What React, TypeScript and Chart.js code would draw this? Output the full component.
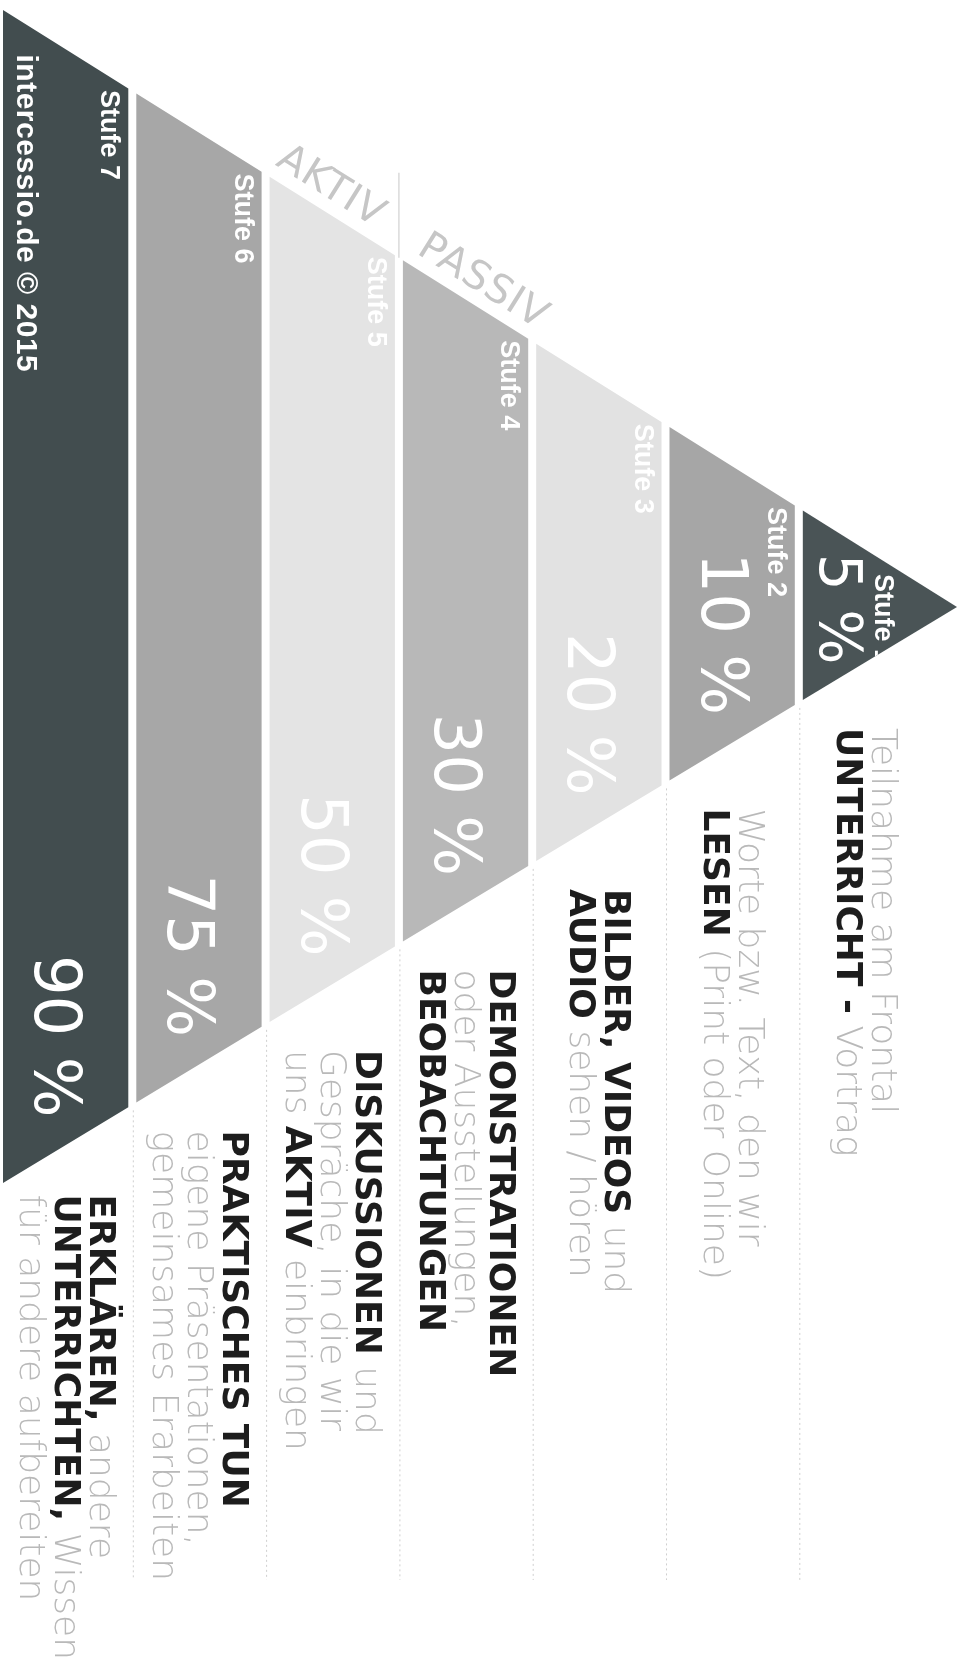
import React, { useEffect, useRef } from "react";
import { Chart, registerables } from "chart.js";

Chart.register(...registerables);

// ---------------- data ----------------
const stufen = ["Stufe 1", "Stufe 2", "Stufe 3", "Stufe 4", "Stufe 5", "Stufe 6", "Stufe 7"];
const behaltensquote = [5, 10, 20, 30, 50, 75, 90];
const beschreibungen: string[][] = [
  ["Teilnahme am Frontal", "**UNTERRICHT -** Vortrag"],
  ["Worte bzw. Text, den wir", "**LESEN** (Print oder Online)"],
  ["**BILDER, VIDEOS** und", "**AUDIO** sehen / hören"],
  ["**DEMONSTRATIONEN**", "oder Ausstellungen,", "**BEOBACHTUNGEN**"],
  ["**DISKUSSIONEN** und", "Gespräche, in die wir", "uns **AKTIV** einbringen"],
  ["**PRAKTISCHES TUN**", "eigene Präsentationen,", "gemeinsames Erarbeiten"],
  ["**ERKLÄREN,** andere", "**UNTERRICHTEN,** Wissen", "für andere aufbereiten"],
];
const gruppen = ["AKTIV", "PASSIV"];
const gruppenStufe = [4, 3]; // index into stufen: AKTIV sits above Stufe 5, PASSIV above Stufe 4
const quelle = "intercessio.de © 2015";

// ---------------- layout / style ----------------
const W = 966;
const H = 1676;
const BASE_X = 3;
const APEX_X = 957;
const TOP_AT_BASE = 10;
const BOTTOM_AT_BASE = 1183;
const APEX_Y = 607;
const PITCH = 133.3;
const GAP = 8;
const LINE = 35;
const SEP_END = 1580;

const bandColors = ["#4a5456", "#a6a6a6", "#e2e2e2", "#b8b8b8", "#e4e4e4", "#a7a7a7", "#424d4f"];
const FAMILY = "'DejaVu Sans', 'Noto Sans', sans-serif";
const TITLE_FONT = `bold 36px ${FAMILY}`;
const DESC_FONT = `200 36px ${FAMILY}`;
const TITLE_COLOR = "#1d1d1d";
const DESC_COLOR = "#b9b9b9";

const topEdge = (x: number) => TOP_AT_BASE + ((APEX_Y - TOP_AT_BASE) * (x - BASE_X)) / (APEX_X - BASE_X);
const bottomEdge = (x: number) => BOTTOM_AT_BASE + ((APEX_Y - BOTTOM_AT_BASE) * (x - BASE_X)) / (APEX_X - BASE_X);

const n = stufen.length;
const bandLeft = (i: number) => BASE_X + (n - 1 - i) * PITCH;
const bandNomRight = (i: number) => bandLeft(i) + PITCH - GAP;
const bandRight = (i: number) => (i === 0 ? APEX_X : bandNomRight(i));

const bandPolygon = (i: number) => {
  const l = bandLeft(i);
  const r = bandRight(i);
  return [
    { x: l, y: topEdge(l) },
    { x: r, y: topEdge(r) },
    { x: r, y: bottomEdge(r) },
    { x: l, y: bottomEdge(l) },
    { x: l, y: topEdge(l) },
  ];
};

function parseRich(s: string) {
  return s
    .split("**")
    .map((t, k) => ({ text: t, bold: k % 2 === 1 }))
    .filter((p) => p.text.length > 0);
}

const textPlugin = {
  id: "pyramidText",
  afterDatasetsDraw(chart: any) {
    const ctx: CanvasRenderingContext2D = chart.ctx;
    const xs = chart.scales.x;
    const ys = chart.scales.y;
    const px = (v: number) => xs.getPixelForValue(v);
    const py = (v: number) => ys.getPixelForValue(v);

    const clipBand = (i: number) => {
      const poly = bandPolygon(i);
      ctx.beginPath();
      poly.forEach((p, k) => (k === 0 ? ctx.moveTo(px(p.x), py(p.y)) : ctx.lineTo(px(p.x), py(p.y))));
      ctx.closePath();
      ctx.clip();
    };

    const measureLine = (line: string) => {
      let w = 0;
      for (const seg of parseRich(line)) {
        ctx.font = seg.bold ? TITLE_FONT : DESC_FONT;
        w += ctx.measureText(seg.text).width;
      }
      return w;
    };

    for (let i = 0; i < n; i++) {
      const l = bandLeft(i);
      const nr = bandNomRight(i);
      const apex = i === 0;

      // Stufe label
      ctx.save();
      clipBand(i);
      ctx.font = `bold 27px 'Liberation Sans', Arial, sans-serif`;
      ctx.fillStyle = "#ffffff";
      ctx.textBaseline = "alphabetic";
      const sx = apex ? l + 72 : nr - 27;
      const sy = topEdge(sx + 20) + 6;
      ctx.translate(px(sx), py(sy));
      ctx.rotate(Math.PI / 2);
      ctx.textAlign = "left";
      ctx.fillText(stufen[i], 0, 0);
      ctx.restore();

      // percentage
      ctx.save();
      clipBand(i);
      const fs = apex ? 58 : 64;
      ctx.font = `normal ${fs}px ${FAMILY}`;
      ctx.fillStyle = "#ffffff";
      const bx = apex ? l + 17 : l + 32;
      const endY = bottomEdge(bx + fs * 0.73) - (apex ? 0 : 18);
      ctx.translate(px(bx), py(endY));
      ctx.rotate(Math.PI / 2);
      ctx.textAlign = "right";
      ctx.fillText(`${behaltensquote[i]} %`, 0, 0);
      ctx.restore();

      // description block beside the pyramid
      const lines = beschreibungen[i];
      const center = (l + nr) / 2;
      const first = center - 11 + ((lines.length - 1) * LINE) / 2;
      const longest = Math.max(...lines.map(measureLine));
      const startY = Math.min(bottomEdge(l) + 28, H - 16 - longest);
      lines.forEach((line, k) => {
        const baseX = first - k * LINE;
        ctx.save();
        ctx.translate(px(baseX), py(startY));
        ctx.rotate(Math.PI / 2);
        ctx.textAlign = "left";
        let off = 0;
        for (const seg of parseRich(line)) {
          ctx.font = seg.bold ? TITLE_FONT : DESC_FONT;
          ctx.fillStyle = seg.bold ? TITLE_COLOR : DESC_COLOR;
          ctx.fillText(seg.text, off, 0);
          off += ctx.measureText(seg.text).width;
        }
        ctx.restore();
      });
    }

    // credit in the base band
    {
      const i = n - 1;
      ctx.save();
      clipBand(i);
      ctx.font = `bold 30px 'Liberation Sans', Arial, sans-serif`;
      (ctx as any).letterSpacing = "0.5px";
      ctx.fillStyle = "#ffffff";
      const cx = bandLeft(i) + 14;
      const cy = topEdge(cx + 22) + 22;
      ctx.translate(px(cx), py(cy));
      ctx.rotate(Math.PI / 2);
      ctx.textAlign = "left";
      ctx.fillText(quelle, 0, 0);
      ctx.restore();
    }

    // AKTIV / PASSIV along the upper edge
    const ang = Math.atan2(APEX_Y - TOP_AT_BASE, APEX_X - BASE_X);
    gruppen.forEach((g, k) => {
      const i = gruppenStufe[k];
      const x0 = bandLeft(i) + (k === 0 ? -2 : 6);
      const y0 = topEdge(x0);
      const ox = x0 + Math.sin(ang) * 13;
      const oy = y0 - Math.cos(ang) * 13;
      ctx.save();
      ctx.font = `normal 40px ${FAMILY}`;
      ctx.fillStyle = "#c6c6c6";
      (ctx as any).letterSpacing = "1px";
      ctx.translate(px(ox), py(oy));
      ctx.rotate(ang);
      ctx.textAlign = "left";
      ctx.fillText(g, 0, 0);
      ctx.restore();
    });
  },
};

function buildDatasets() {
  const ds: any[] = [];
  for (let i = 0; i < n; i++) {
    ds.push({
      label: stufen[i],
      data: bandPolygon(i),
      backgroundColor: bandColors[i],
      borderWidth: 0,
      pointRadius: 0,
      fill: "shape",
      tension: 0,
    });
  }
  // dotted separators between the description rows
  for (let i = 0; i < n - 1; i++) {
    const x = bandLeft(i) - 3;
    ds.push({
      label: "sep" + i,
      data: [
        { x, y: bottomEdge(x) + 6 },
        { x, y: SEP_END },
      ],
      borderColor: "#cfcfcf",
      borderWidth: 1,
      borderDash: [2, 3],
      pointRadius: 0,
      fill: false,
    });
  }
  // divider between AKTIV and PASSIV
  const dx = bandLeft(gruppenStufe[1]) - GAP / 2;
  ds.push({
    label: "divider",
    data: [
      { x: dx, y: topEdge(dx) },
      { x: dx, y: topEdge(dx) - 85 },
    ],
    borderColor: "#dadada",
    borderWidth: 1.5,
    pointRadius: 0,
    fill: false,
  });
  return ds;
}

export default function App() {
  const ref = useRef<HTMLCanvasElement | null>(null);
  useEffect(() => {
    document.body.style.margin = "0";
    document.body.style.overflow = "hidden";
    const chart = new Chart(ref.current as HTMLCanvasElement, {
      type: "line",
      data: { datasets: buildDatasets() },
      options: {
        responsive: false,
        animation: false,
        layout: { padding: 0, autoPadding: false } as any,
        plugins: { legend: { display: false }, tooltip: { enabled: false } },
        events: [],
        scales: {
          x: { type: "linear", min: 0, max: W, display: false },
          y: { type: "linear", min: 0, max: H, reverse: true, display: false },
        },
        elements: { line: { tension: 0 } },
      },
      plugins: [textPlugin],
    } as any);
    return () => chart.destroy();
  }, []);
  return (
    <div style={{ width: W, height: H, background: "#ffffff" }}>
      <canvas ref={ref} width={W} height={H} style={{ display: "block", width: W, height: H }} />
    </div>
  );
}
